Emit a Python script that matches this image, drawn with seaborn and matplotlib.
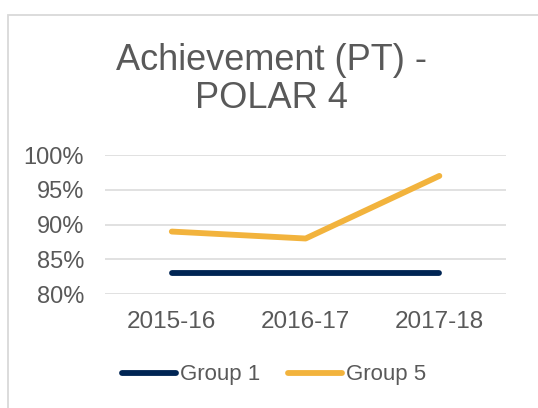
import pandas as pd
import matplotlib
matplotlib.use("Agg")
import matplotlib.pyplot as plt
import seaborn as sns
from matplotlib.patches import Rectangle
from matplotlib.ticker import PercentFormatter

# dados do gráfico
years = ["2015-16", "2016-17", "2017-18"]
group_1 = [0.83, 0.83, 0.83]
group_5 = [0.89, 0.88, 0.97]
series_names = ["Group 1", "Group 5"]
colors = ["#002554", "#F2B33D"]

text_gray = "#595959"
grid_gray = "#D9D9D9"

df = pd.DataFrame({
    "Year": years * 2,
    "Value": group_1 + group_5,
    "Series": [series_names[0]] * len(years) + [series_names[1]] * len(years),
})

sns.set_theme(style="whitegrid")
plt.rcParams["font.family"] = ["Liberation Sans", "DejaVu Sans"]

fig = plt.figure(figsize=(5.38, 4.08), dpi=100)
ax = fig.add_axes([0.195, 0.279, 0.746, 0.341])

sns.lineplot(data=df, x="Year", y="Value", hue="Series", palette=colors,
             linewidth=4.2, sort=False, ax=ax, legend=True,
             solid_capstyle="round")

ax.set_ylim(0.8, 1.0)
ax.set_yticks([0.80, 0.85, 0.90, 0.95, 1.00])
ax.yaxis.set_major_formatter(PercentFormatter(1.0, decimals=0))
ax.set_xlim(-0.5, 2.5)
ax.set_xlabel("")
ax.set_ylabel("")
ax.grid(axis="y", color=grid_gray, linewidth=1.1)
ax.grid(axis="x", visible=False)
for s in ax.spines.values():
    s.set_visible(False)
ax.tick_params(axis="y", labelsize=17, colors=text_gray, pad=15, length=0)
ax.tick_params(axis="x", labelsize=17.5, colors=text_gray, pad=12, length=0)

leg = ax.legend(loc="center", bbox_to_anchor=(0.509, 0.081),
                bbox_transform=fig.transFigure, ncol=2, frameon=False,
                fontsize=16, handlelength=2.45, handletextpad=0.15,
                columnspacing=1.25)
for t in leg.get_texts():
    t.set_color(text_gray)
for h in leg.get_lines():
    h.set_linewidth(4.2)
    h.set_solid_capstyle("round")

fig.text(0.504, 0.805, "Achievement (PT) -\nPOLAR 4", ha="center", va="center",
         fontsize=26, color=text_gray, linespacing=1.1)

# moldura do gráfico
fig.patches.append(Rectangle((8 / 538, -0.05), 1.2, 1 - 15 / 408 + 0.05,
                             transform=fig.transFigure, fill=False,
                             edgecolor=grid_gray, linewidth=1.3))

fig.savefig("out.png", dpi=100)
